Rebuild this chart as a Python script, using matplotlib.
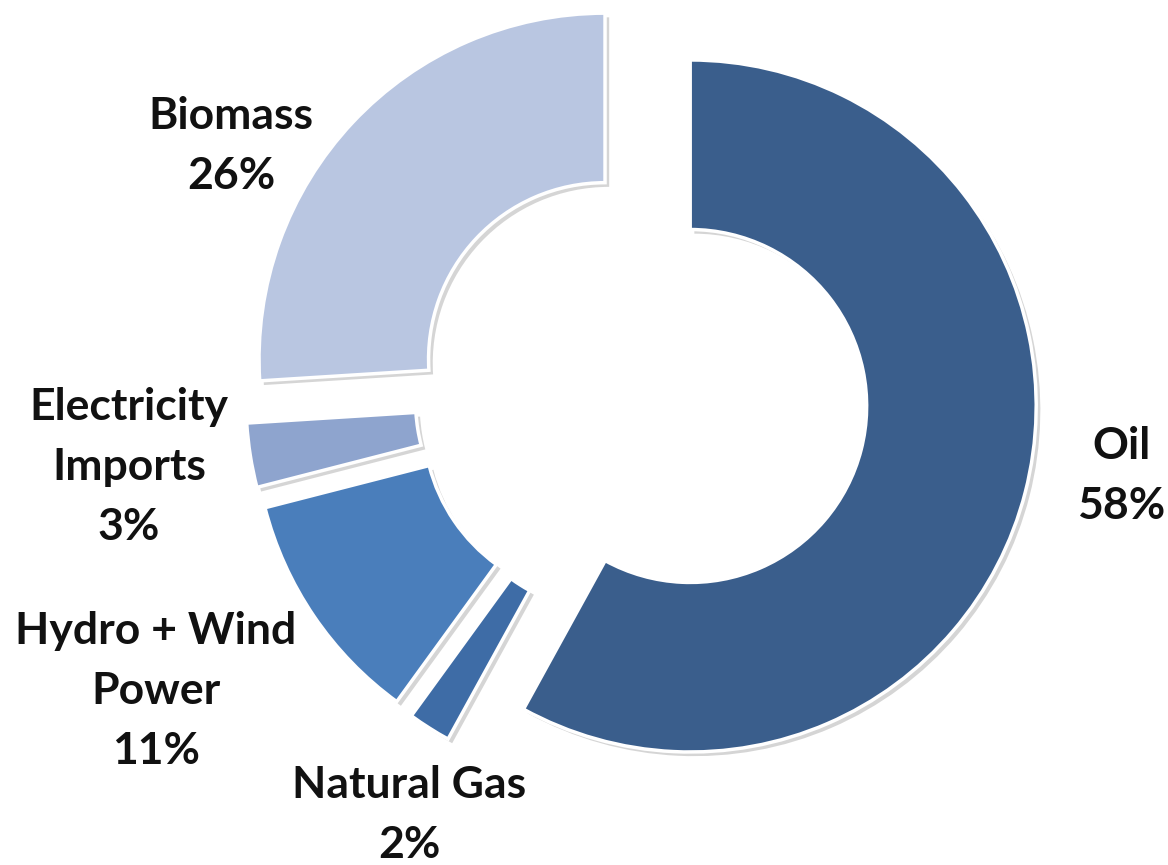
import matplotlib
matplotlib.use("Agg")
import matplotlib.pyplot as plt
import matplotlib.patheffects as pe

# ---- data ----
categories = ["Oil", "Natural Gas", "Hydro + Wind\nPower", "Electricity\nImports", "Biomass"]
shares = [58, 2, 11, 3, 26]
colors = ["#3A5E8C", "#3E6CA6", "#4A7EBB", "#8EA4CE", "#B9C6E1"]

# ---- layout (pixels) ----
W, H = 1168, 865
cx_px, cy_px = 641.6, 393.5      # pie centre
px_per_unit = 346.0              # outer radius in px

fig = plt.figure(figsize=(W / 100, H / 100), dpi=100)
ax = fig.add_axes([0, 0, 1, 1])

wedges, _ = ax.pie(
    shares,
    colors=colors,
    startangle=90,
    counterclock=False,
    radius=1.0,
    explode=[0.145] * len(shares),
    wedgeprops=dict(width=0.49, edgecolor="white", linewidth=2.5),
)
for w in wedges:
    w.set_path_effects([
        pe.SimplePatchShadow(offset=(3, -3), shadow_rgbFace="#888888", alpha=0.35),
        pe.Normal(),
    ])

ax.set_xlim(-cx_px / px_per_unit, (W - cx_px) / px_per_unit)
ax.set_ylim(-(H - cy_px) / px_per_unit, cy_px / px_per_unit)
ax.set_aspect("auto")
ax.axis("off")

def px2data(x, y):
    return (x - cx_px) / px_per_unit, (cy_px - y) / px_per_unit

# label centres (pixels)
label_pos = [(1121, 476), (409, 815), (156, 691), (129, 467), (231, 146)]
for cat, val, (lx, ly) in zip(categories, shares, label_pos):
    x, y = px2data(lx, ly)
    ax.text(x, y, f"{cat}\n{val}%", ha="center", va="center",
            fontsize=32, fontfamily="Lato", fontweight="bold",
            linespacing=1.6, color="#111111")

fig.savefig("out.png", dpi=100)
